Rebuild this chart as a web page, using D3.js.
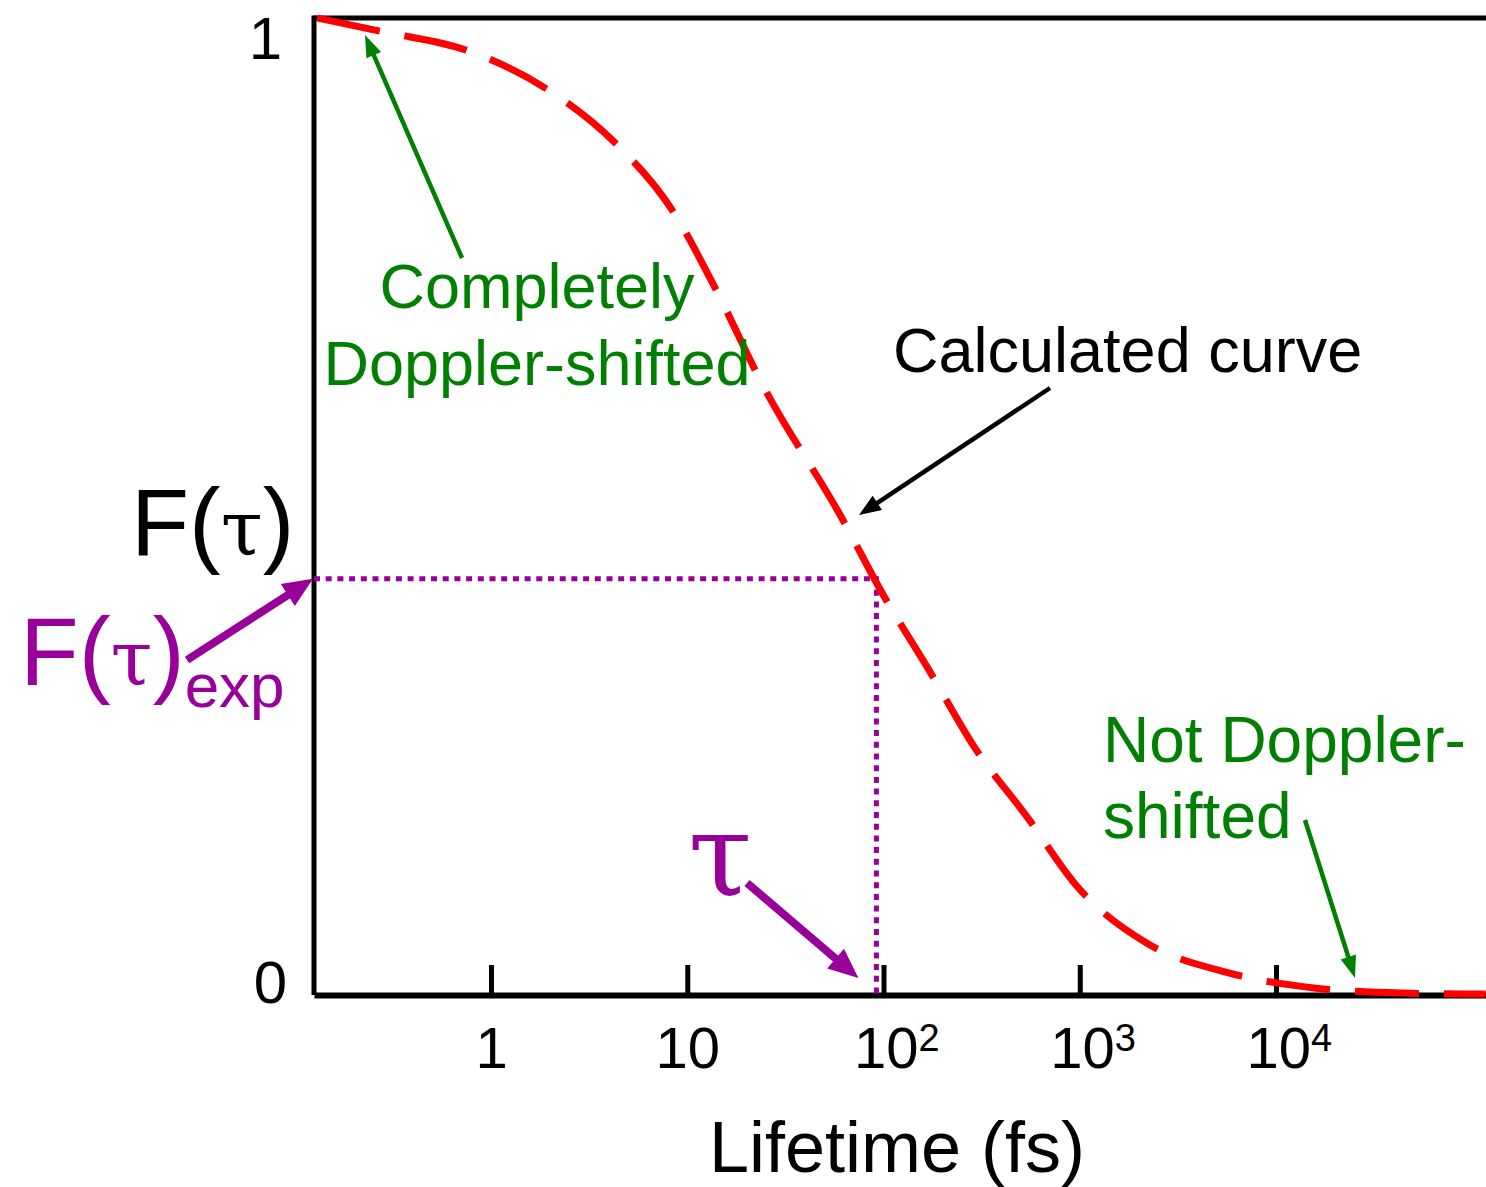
<!DOCTYPE html>
<html>
<head>
<meta charset="utf-8">
<script src="https://cdn.jsdelivr.net/npm/d3@7.9.0/dist/d3.min.js"></script>
<style>
  body { margin: 0; background: #fff; }
  svg { display: block; font-family: 'Liberation Sans', Arial, sans-serif; }
</style>
</head>
<body>
<svg id="chart" width="1486" height="1187"></svg>
<script>
// calculated F(tau) curve
const lifetimes = [0.13, 0.28, 0.75, 1.9, 4.3, 8.4, 14, 24, 61, 100, 170, 290, 540, 980, 2200, 5800, 16000, 44000, 117000];
const fValues = [1.0, 0.986, 0.967, 0.928, 0.872, 0.803, 0.722, 0.626, 0.489, 0.409, 0.333, 0.254, 0.182, 0.110, 0.053, 0.0225, 0.007, 0.002, 0.001];

const tickValues = [1, 10, 100, 1000, 10000];
const tickLabels = [['1', ''], ['10', ''], ['10', '2'], ['10', '3'], ['10', '4']];

// experimental point
const tauExp = 92;
const fExp = 0.426;

const xDomain = [0.1253, 117500];
const yDomain = [0, 1];

const width = 1486;
const height = 1187;
const margin = { top: 18, right: 0, bottom: 192, left: 314 };

const svg = d3.select('#chart');

const xScale = d3.scaleLog()
  .domain(xDomain)
  .range([margin.left, width - margin.right]);

const yScale = d3.scaleLinear()
  .domain(yDomain)
  .range([height - margin.bottom, margin.top]);

const purple = '#990099';
const green = '#008000';

// left and top frame lines
svg.append('line')
  .attr('x1', margin.left).attr('x2', margin.left)
  .attr('y1', yScale(1) - 2.5).attr('y2', yScale(0))
  .attr('stroke', '#000').attr('stroke-width', 5);
svg.append('line')
  .attr('x1', margin.left).attr('x2', width)
  .attr('y1', yScale(1)).attr('y2', yScale(1))
  .attr('stroke', '#000').attr('stroke-width', 5);

// bottom axis, ticks pointing inward
const xAxis = d3.axisBottom(xScale)
  .tickValues(tickValues)
  .tickSizeInner(-30)
  .tickSizeOuter(0)
  .tickPadding(32)
  .tickFormat('');

const gx = svg.append('g')
  .attr('transform', `translate(0, ${yScale(0)})`)
  .call(xAxis);

gx.select('.domain').attr('stroke', '#000').attr('stroke-width', 6);
gx.selectAll('.tick line').attr('stroke', '#000').attr('stroke-width', 5);
gx.selectAll('.tick text')
  .attr('fill', '#000')
  .style('font-size', '58px')
  .style('font-family', "'Liberation Sans', Arial, sans-serif")
  .each(function (d, i) {
    const t = d3.select(this);
    const [base, sup] = tickLabels[i];
    t.append('tspan').text(base);
    if (sup) {
      t.attr('text-anchor', 'start').attr('x', -30);
      t.append('tspan').attr('dy', '-0.45em').style('font-size', '38px').text(sup);
    }
  });

// y labels
svg.append('text')
  .attr('x', margin.left - 32).attr('y', yScale(1) + 41)
  .attr('text-anchor', 'end')
  .style('font-size', '60px')
  .text('1');
svg.append('text')
  .attr('x', margin.left - 27).attr('y', yScale(0) + 8)
  .attr('text-anchor', 'end')
  .style('font-size', '60px')
  .text('0');

// x title
svg.append('text')
  .attr('x', 897).attr('y', 1172)
  .attr('text-anchor', 'middle')
  .style('font-size', '72px')
  .text('Lifetime (fs)');

// dotted guide lines to the experimental value
svg.append('path')
  .attr('d', `M${margin.left},${yScale(fExp)}H${xScale(tauExp)}V${yScale(0)}`)
  .attr('fill', 'none')
  .attr('stroke', purple)
  .attr('stroke-width', 5)
  .attr('stroke-dasharray', '6,5.7');

// curve
const line = d3.line()
  .x((d, i) => xScale(lifetimes[i]))
  .y((d) => yScale(d))
  .curve(d3.curveMonotoneX);

svg.append('path')
  .datum(fValues)
  .attr('d', line)
  .attr('fill', 'none')
  .attr('stroke', '#ff0000')
  .attr('stroke-width', 7)
  .attr('stroke-dasharray', '64,25');

// arrows drawn as a shaft plus a filled head
function arrow(x1, y1, x2, y2, color, w, headLen, headW) {
  const a = Math.atan2(y2 - y1, x2 - x1);
  const bx = x2 - headLen * Math.cos(a);
  const by = y2 - headLen * Math.sin(a);
  const nx = -Math.sin(a) * headW / 2;
  const ny = Math.cos(a) * headW / 2;
  svg.append('line')
    .attr('x1', x1).attr('y1', y1)
    .attr('x2', bx + (x2 - bx) * 0.2).attr('y2', by + (y2 - by) * 0.2)
    .attr('stroke', color).attr('stroke-width', w);
  svg.append('polygon')
    .attr('points', `${x2},${y2} ${bx + nx},${by + ny} ${bx - nx},${by - ny}`)
    .attr('fill', color);
}

arrow(462, 258, 365, 35, green, 4.5, 22, 16);
arrow(1305, 820, 1355, 978, green, 4.5, 22, 16);
arrow(1050, 388, 859, 515, '#000', 4.5, 22, 17);
arrow(187, 660, margin.left - 1, yScale(fExp), purple, 8, 30, 26);
arrow(747, 883, xScale(tauExp) - 18, yScale(0) - 17, purple, 8, 30, 26);

// annotations
const serif = "'DejaVu Serif', 'Liberation Serif', serif";

const fTau = svg.append('text')
  .attr('x', 131).attr('y', 555)
  .style('font-size', '95px')
  .attr('fill', '#000');
fTau.append('tspan').text('F(');
fTau.append('tspan').style('font-family', serif).style('font-size', '76px').text('τ');
fTau.append('tspan').text(')');

const fExpLabel = svg.append('text')
  .attr('x', 20).attr('y', 685)
  .style('font-size', '96px')
  .attr('fill', purple);
fExpLabel.append('tspan').text('F(');
fExpLabel.append('tspan').style('font-family', serif).style('font-size', '76px').text('τ');
fExpLabel.append('tspan').text(')');
fExpLabel.append('tspan').attr('dy', 22).style('font-size', '62px').text('exp');

svg.append('text')
  .attr('x', 688).attr('y', 895)
  .style('font-size', '116px')
  .style('font-family', serif)
  .attr('fill', purple)
  .text('τ');

const compl = svg.append('text')
  .attr('text-anchor', 'middle')
  .style('font-size', '63px')
  .attr('fill', green);
compl.append('tspan').attr('x', 537).attr('y', 308).text('Completely');
compl.append('tspan').attr('x', 537).attr('y', 385).text('Doppler-shifted');

svg.append('text')
  .attr('x', 893).attr('y', 372)
  .style('font-size', '63px')
  .attr('fill', '#000')
  .text('Calculated curve');

const notD = svg.append('text')
  .style('font-size', '64px')
  .attr('fill', green);
notD.append('tspan').attr('x', 1103).attr('y', 762).text('Not Doppler-');
notD.append('tspan').attr('x', 1103).attr('y', 838).text('shifted');
</script>
</body>
</html>
